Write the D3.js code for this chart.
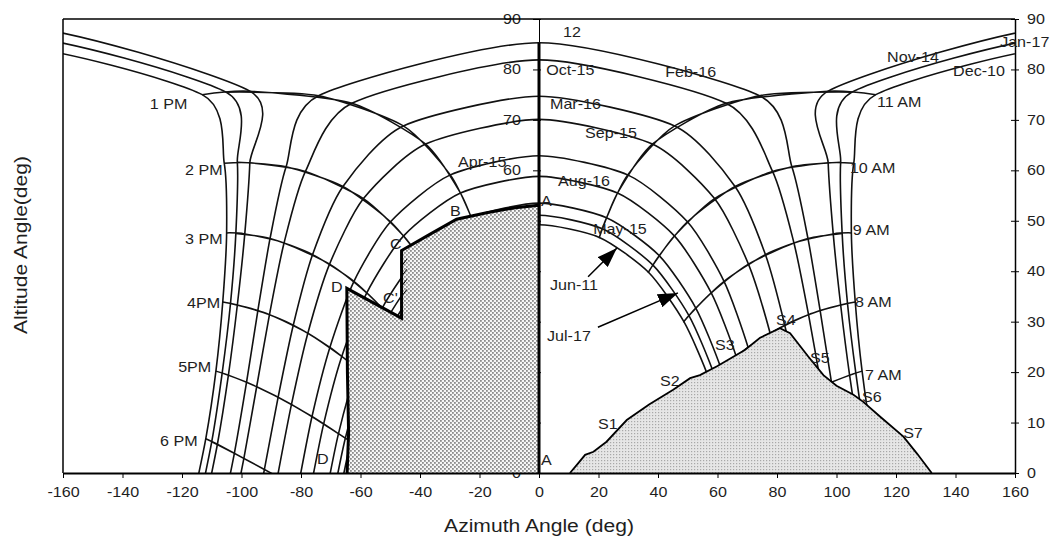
<!DOCTYPE html>
<html>
<head>
<meta charset="utf-8">
<script src="https://cdn.jsdelivr.net/npm/d3@7"></script>
<style>
body { margin: 0; background: #fff; }
svg text { font-family: "Liberation Sans", Arial, sans-serif; fill: #1e1e1e; }
</style>
</head>
<body>
<svg id="chart" width="1055" height="542"></svg>
<script>
// mean days of the months, in the order the hour lines join them
var dates = ['Jan-17', 'Feb-16', 'Mar-16', 'Apr-15', 'May-15', 'Jun-11',
	'Jul-17', 'Aug-16', 'Sep-15', 'Oct-15', 'Nov-14', 'Dec-10'];

// afternoon side, solar time 12 .. 7 PM (morning side is the mirror image)
var pmHourLabels = ['12', '1 PM', '2 PM', '3 PM', '4PM', '5PM', '6 PM'];
var amHourLabels = ['11 AM', '10 AM', '9 AM', '8 AM', '7 AM'];

// altitude (deg) at 12, 1, 2 ... 7 PM
var altitudes = [
	[86.8, 75.5, 61.6, 47.5, 33.6, 19.8, 6.2, -7.0],
	[85.3, 74.8, 60.7, 46.5, 32.2, 18.0, 3.9, -9.9],
	[74.7, 68.8, 56.8, 43.3, 29.3, 15.0, 0.7, -13.5],
	[62.9, 59.1, 49.8, 38.0, 24.9, 11.2, -2.9],
	[53.5, 50.6, 43.1, 32.7, 20.7, 7.8, -5.6],
	[49.2, 46.7, 39.8, 30.0, 18.6, 6.2, -6.9],
	[51.1, 48.4, 41.2, 31.2, 19.5, 6.9, -6.3],
	[58.8, 55.5, 47.0, 35.7, 23.1, 9.7, -4.1],
	[70.1, 65.2, 54.4, 41.4, 27.7, 13.6, -0.7],
	[81.9, 73.3, 59.8, 45.6, 31.4, 17.1, 2.9, -11.1],
	[88.8, 75.7, 61.5, 47.4, 33.3, 19.4, 5.7, -7.8],
	[84.7, 75.0, 61.4, 47.6, 33.9, 20.2, 6.8, -6.2]
];

// azimuth (deg, west negative) at 12, 1, 2 ... 7 PM; -180 = sun due south at noon
var azimuths = [
	[-180, -105.2, -101.4, -101.9, -103.7, -106.5, -110.0, -114.6],
	[0, -74.1, -85.0, -90.4, -94.5, -98.3, -102.4, -107.2],
	[0, -45.6, -65.9, -76.1, -82.6, -87.7, -92.3, -97.0],
	[0, -29.8, -49.9, -62.2, -70.3, -76.3, -81.0],
	[0, -22.7, -40.4, -52.7, -61.2, -67.4, -72.0],
	[0, -20.3, -36.8, -48.7, -57.2, -63.3, -67.9],
	[0, -21.3, -38.3, -50.4, -58.9, -65.1, -69.7],
	[0, -26.4, -45.5, -57.9, -66.3, -72.4, -77.1],
	[0, -38.1, -59.0, -70.4, -77.7, -83.2, -87.9],
	[0, -62.9, -78.5, -85.7, -90.6, -94.9, -99.2, -103.9],
	[-180, -97.2, -97.2, -98.9, -101.4, -104.4, -108.1, -112.8],
	[-180, -113.2, -105.8, -105.0, -106.3, -108.6, -112.0, -116.6]
];

// obstruction outline A-B-C-C'-D on the west side [azimuth, altitude]
var westBlock = [[0, 0], [0, 53.1], [-8, 52.6], [-17.6, 51.6], [-27.7, 50.3],
	[-37, 47.2], [-46.2, 44.1], [-46.2, 30.7], [-64.6, 36.6], [-64.4, 20],
	[-64.0, 8], [-64.5, 0]];
// skyline S1..S7 on the east side [azimuth, altitude]
var eastBlock = [[10.4, 0], [13, 1.8], [15.5, 3.6], [18.3, 4.2], [22.7, 6.2],
	[29.5, 10.5], [37, 13.6], [45.1, 16.5], [50.8, 18.8], [54.1, 19.4],
	[60, 21.2], [69.2, 24.4], [74.3, 26.8], [81.0, 28.7], [84.4, 27.7],
	[90.5, 23.1], [95.6, 19.4], [100, 17.3], [105.7, 15.5], [109, 14.1],
	[114.6, 11.2], [122.5, 7.2], [127, 3.9], [132, 0]];
var wallTicks = [35, 37, 39, 41];

var xTicks = d3.range(-160, 161, 20);
var yTicks = d3.range(0, 91, 10);

// text placed by [label, azimuth, altitude]
var dateNotes = [['Oct-15', 2.4, 79.9], ['Feb-16', 42.4, 79.5], ['Mar-16', 3.7, 73.1],
	['Sep-15', 15.5, 67.4], ['Apr-15', -27.2, 61.7], ['Aug-16', 6.4, 57.9],
	['May-15', 18.2, 48.4], ['Jun-11', 3.7, 37.3], ['Jul-17', 2.7, 27.2],
	['Nov-14', 117, 82.4], ['Jan-17', 155, 85.4], ['Dec-10', 139.2, 79.7]];
var hourNotes = [['12', 8.1, 87.4], ['1 PM', -130.8, 73.2], ['2 PM', -119, 60.1],
	['3 PM', -119, 46.4], ['4PM', -118.3, 33.7], ['5PM', -121.3, 21.0],
	['6 PM', -127.4, 6.3], ['11 AM', 113.6, 73.6], ['10 AM', 104.5, 60.5],
	['9 AM', 105.5, 48.2], ['8 AM', 106.2, 33.9], ['7 AM', 109.6, 19.4]];
var pointNotes = [['A', 0.7, 53.9], ['A', 0.7, 2.6], ['B', -29.9, 51.9],
	['C', -50.1, 45.4], ["C'", -52.4, 34.7], ['D', -69.9, 36.9], ['D', -74.6, 2.8],
	['S1', 19.8, 9.7], ['S2', 40.7, 18.2], ['S3', 59.2, 25.4], ['S4', 79.7, 30.3],
	['S5', 91.1, 22.8], ['S6', 108.6, 15.1], ['S7', 122.4, 7.9]];
var arrows = [[[16.5, 38.9], [26.2, 44.6]], [[19.8, 28.9], [46.7, 35.7]]];

var x = d3.scaleLinear().domain([-160, 160]).range([63, 1015]);
var y = d3.scaleLinear().domain([0, 90]).range([473, 19]);
var stretch = 1.15;

var svg = d3.select('#chart');
var defs = svg.append('defs');

defs.append('clipPath').attr('id', 'plotClip')
	.append('rect')
	.attr('x', x(-160)).attr('y', y(90))
	.attr('width', x(160) - x(-160)).attr('height', y(0) - y(90));

var hatch = defs.append('pattern').attr('id', 'hatchWest')
	.attr('patternUnits', 'userSpaceOnUse').attr('width', 4).attr('height', 4);
hatch.append('rect').attr('width', 4).attr('height', 4).attr('fill', '#f6f6f6');
hatch.append('rect').attr('x', 0).attr('y', 0).attr('width', 1.8).attr('height', 1.8).attr('fill', '#8c8c8c');
hatch.append('rect').attr('x', 2).attr('y', 2).attr('width', 1.8).attr('height', 1.8).attr('fill', '#8c8c8c');

var dots = defs.append('pattern').attr('id', 'dotsEast')
	.attr('patternUnits', 'userSpaceOnUse').attr('width', 3).attr('height', 3);
dots.append('rect').attr('width', 3).attr('height', 3).attr('fill', '#e6e6e6');
dots.append('rect').attr('x', 1).attr('y', 1).attr('width', 1.2).attr('height', 1.2)
	.attr('fill', '#a8a8a8');

defs.append('marker').attr('id', 'head')
	.attr('markerUnits', 'userSpaceOnUse')
	.attr('viewBox', '0 0 20 14').attr('refX', 20).attr('refY', 7)
	.attr('markerWidth', 20).attr('markerHeight', 14).attr('orient', 'auto')
	.append('path').attr('d', 'M0,0L20,7L0,14Z').attr('fill', '#000');

function stretchText(sel) {
	sel.attr('transform', function () {
		var t = d3.select(this).attr('transform');
		return (t ? t + ' ' : '') + 'scale(' + stretch + ',1)';
	});
}

function plain(d) {
	return String(d);
}

// y axis through azimuth 0 (its lower labels disappear under the shading)
var midAxis = svg.append('g')
	.attr('transform', 'translate(' + x(0) + ',0)')
	.call(d3.axisLeft(y).tickValues(yTicks).tickFormat(plain)
		.tickSize(6).tickSizeOuter(0).tickPadding(12));
midAxis.select('.domain').attr('stroke', '#000').attr('stroke-width', 1);
midAxis.selectAll('.tick line').attr('x2', -6).attr('x1', 2).attr('stroke', '#000');
midAxis.selectAll('.tick text')
	.style('font-size', '14px')
	.attr('x', -18 / stretch)
	.call(stretchText);

var line = d3.line()
	.curve(d3.curveCardinal.tension(0.3))
	.x(function (d) { return x(d[0]); })
	.y(function (d) { return y(d[1]); });

function afternoon(i) {
	var pts = [];
	altitudes[i].forEach(function (alt, k) {
		pts.push([azimuths[i][k], alt]);
	});
	return pts;
}

// whole-day paths; for a southern noon the morning wraps past -180
function dayPaths(i) {
	var pm = afternoon(i);
	var south = pm[0][0] === -180;
	var am = pm.slice(1).reverse().map(function (p) {
		return [south ? -360 - p[0] : -p[0], p[1]];
	});
	var day = am.concat(pm);
	if (!south) {
		return [day];
	}
	return [day, day.map(function (p) { return [p[0] + 360, p[1]]; })];
}

var plot = svg.append('g').attr('clip-path', 'url(#plotClip)');

var dayLines = [];
dates.forEach(function (d, i) {
	dayPaths(i).forEach(function (p) { dayLines.push(p); });
});

plot.selectAll('.day').data(dayLines).enter()
	.append('path').attr('class', 'day')
	.attr('d', line)
	.attr('fill', 'none').attr('stroke', '#111').attr('stroke-width', 1.6);

var hourLines = [];
d3.range(1, 7).forEach(function (k) {
	var pm = dates.map(function (d, i) {
		return [azimuths[i][k], altitudes[i][k]];
	});
	hourLines.push(pm);
	hourLines.push(pm.map(function (p) { return [-p[0], p[1]]; }));
});

plot.selectAll('.hour').data(hourLines).enter()
	.append('path').attr('class', 'hour')
	.attr('d', line)
	.attr('fill', 'none').attr('stroke', '#111').attr('stroke-width', 1.5);

var noon = [];
dates.forEach(function (d, i) {
	if (azimuths[i][0] === 0) {
		noon.push([0, altitudes[i][0]]);
	}
});
noon.sort(function (a, b) { return b[1] - a[1]; });
plot.append('path').datum(noon)
	.attr('d', d3.line().x(function (d) { return x(d[0]); }).y(function (d) { return y(d[1]); }))
	.attr('stroke', '#000').attr('stroke-width', 3);

// shaded obstructions
var poly = d3.line()
	.x(function (d) { return x(d[0]); })
	.y(function (d) { return y(d[1]); });

svg.append('path').datum(westBlock)
	.attr('d', poly(westBlock) + 'Z')
	.attr('fill', 'url(#hatchWest)').attr('stroke', 'none');
svg.append('path').datum(westBlock)
	.attr('d', poly)
	.attr('fill', 'none').attr('stroke', '#000').attr('stroke-width', 3)
	.attr('stroke-linejoin', 'miter');

svg.selectAll('.wallTick').data(wallTicks).enter()
	.append('line').attr('class', 'wallTick')
	.attr('x1', x(-46.2)).attr('y1', function (d) { return y(d); })
	.attr('x2', x(-44.4)).attr('y2', function (d) { return y(d + 1.4); })
	.attr('stroke', '#000').attr('stroke-width', 1);

svg.append('path').datum(eastBlock)
	.attr('d', poly(eastBlock) + 'Z')
	.attr('fill', 'url(#dotsEast)').attr('stroke', 'none');
svg.append('path').datum(eastBlock)
	.attr('d', poly)
	.attr('fill', 'none').attr('stroke', '#000').attr('stroke-width', 1.8);

// frame
svg.append('line')
	.attr('x1', x(-160)).attr('x2', x(160)).attr('y1', y(90)).attr('y2', y(90))
	.attr('stroke', '#000').attr('stroke-width', 1.5);
svg.append('line')
	.attr('x1', x(-160)).attr('x2', x(-160)).attr('y1', y(90)).attr('y2', y(0))
	.attr('stroke', '#000').attr('stroke-width', 1.5);

var xAxis = svg.append('g')
	.attr('transform', 'translate(0,' + y(0) + ')')
	.call(d3.axisBottom(x).tickValues(xTicks).tickFormat(plain)
		.tickSize(5).tickSizeOuter(0).tickPadding(9));
xAxis.select('.domain').attr('stroke', '#000').attr('stroke-width', 2);
xAxis.selectAll('.tick line').attr('stroke', '#000');
xAxis.selectAll('.tick text').style('font-size', '14px').call(stretchText);

var rAxis = svg.append('g')
	.attr('transform', 'translate(' + x(160) + ',0)')
	.call(d3.axisRight(y).tickValues(yTicks).tickFormat(plain)
		.tickSize(4).tickSizeOuter(0).tickPadding(8));
rAxis.select('.domain').attr('stroke', '#000').attr('stroke-width', 1.5);
rAxis.selectAll('.tick line').attr('x1', -4).attr('x2', 4).attr('stroke', '#000');
rAxis.selectAll('.tick text')
	.style('font-size', '14px')
	.attr('x', 12 / stretch)
	.call(stretchText);

svg.selectAll('.domain').attr('fill', 'none');

// labels
function note(list, size) {
	svg.selectAll(null).data(list).enter()
		.append('text')
		.attr('transform', function (d) {
			return 'translate(' + x(d[1]) + ',' + y(d[2]) + ') scale(' + stretch + ',1)';
		})
		.attr('dy', '0.35em')
		.style('font-size', size + 'px')
		.text(function (d) { return d[0]; });
}
note(dateNotes, 14);
note(hourNotes, 14);
note(pointNotes, 14);

svg.selectAll('.arrow').data(arrows).enter()
	.append('line').attr('class', 'arrow')
	.attr('x1', function (d) { return x(d[0][0]); })
	.attr('y1', function (d) { return y(d[0][1]); })
	.attr('x2', function (d) { return x(d[1][0]); })
	.attr('y2', function (d) { return y(d[1][1]); })
	.attr('stroke', '#000').attr('stroke-width', 1.5)
	.attr('marker-end', 'url(#head)');

svg.append('text')
	.attr('transform', 'translate(' + x(0) + ',532) scale(1.14,1)')
	.attr('text-anchor', 'middle')
	.style('font-size', '18.5px')
	.text('Azimuth Angle (deg)');

svg.append('text')
	.attr('transform', 'translate(27,245) rotate(-90) scale(1.14,1)')
	.attr('text-anchor', 'middle')
	.style('font-size', '18.5px')
	.text('Altitude Angle(deg)');
</script>
</body>
</html>
